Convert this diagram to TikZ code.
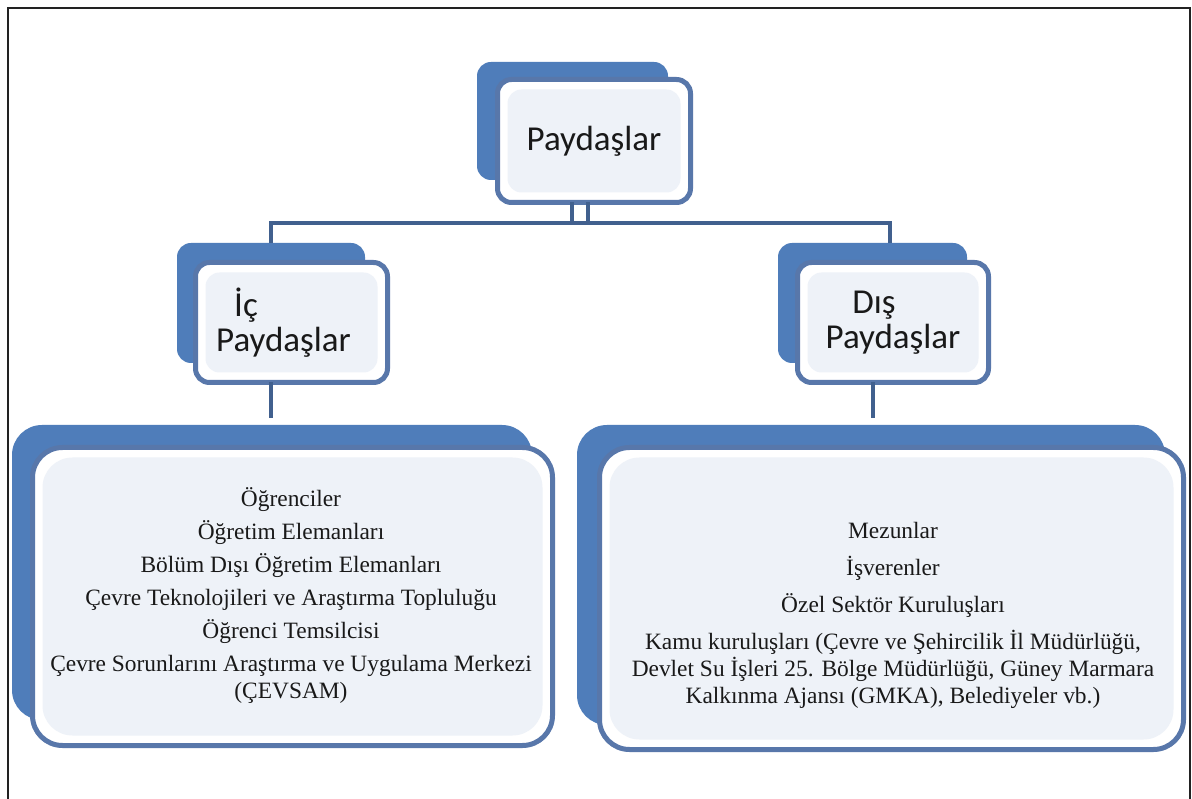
\documentclass[tikz,border=0pt]{standalone}
\usepackage{fontspec}
\setmainfont{Liberation Serif}
\newfontfamily\calib{Carlito}
\definecolor{backblue}{HTML}{4F7DBA}
\definecolor{bordblue}{HTML}{5877AA}
\definecolor{connblue}{HTML}{41608E}
\definecolor{innerfill}{HTML}{EEF2F8}
\definecolor{framegray}{HTML}{222222}
\begin{document}
\begin{tikzpicture}[x=1pt,y=-1pt,
  backbox/.style={fill=backblue, rounded corners=#1, inner sep=0pt, outer sep=0pt},
  frontbox/.style={draw=bordblue, line width=5pt, fill=white, rounded corners=#1,
    inner sep=0pt, outer sep=0pt, text=black!90,
    path picture={\fill[innerfill, rounded corners=#1]
      ([shift={(10pt,10pt)}]path picture bounding box.south west) rectangle
      ([shift={(-10pt,-10pt)}]path picture bounding box.north east);}},
  headtext/.style={font=\calib\fontsize{35}{35}\selectfont, align=center},
  listtext/.style={font=\fontsize{23.4}{27}\selectfont, align=center, text=black!90, inner sep=0pt},
  conn/.style={draw=connblue, line width=4pt},
  frameline/.style={draw=framegray, line width=2pt}
]
\useasboundingbox (0,0) rectangle (1192,799);
\fill[white] (0,0) rectangle (1192,799);
\draw[frameline] (8,805) -- (8,8) -- (1190,8) -- (1190,805);

% top box
\node[backbox=14pt, minimum width=191pt, minimum height=118pt] (topb) at (572.5,121) {};
\node[frontbox=14pt, minimum width=193pt, minimum height=123pt, headtext] (top) at (594,141) {Paydaşlar};

% middle boxes
\node[backbox=14pt, minimum width=188pt, minimum height=120pt] (icb) at (271,303) {};
\node[frontbox=14pt, minimum width=192pt, minimum height=120pt, headtext] (ic) at (291.5,322.5) {İç\hspace*{91pt}\\Paydaşlar\hspace*{16pt}};
\node[backbox=14pt, minimum width=189pt, minimum height=120pt] (disb) at (872.5,303) {};
\node[frontbox=14pt, minimum width=191pt, minimum height=120pt, headtext] (dis) at (893,322.5) {Dış\hspace*{38pt}\\Paydaşlar};

% bottom boxes
\node[backbox=30pt, minimum width=520pt, minimum height=295pt] (Lb) at (272,572.5) {};
\node[frontbox=30pt, minimum width=520pt, minimum height=298pt] (L) at (292.5,596.5) {};
\node[backbox=30pt, minimum width=588pt, minimum height=300pt] (Rb) at (871,575) {};
\node[frontbox=30pt, minimum width=584pt, minimum height=302pt] (R) at (891.5,598.5) {};

\node[listtext] (Lt) at (291,596) {Öğrenciler\\[6pt]Öğretim Elemanları\\[6pt]Bölüm Dışı Öğretim Elemanları\\[6pt]Çevre Teknolojileri ve Araştırma Topluluğu\\[6pt]Öğrenci Temsilcisi\\[6pt]Çevre Sorunlarını Araştırma ve Uygulama Merkezi\\(ÇEVSAM)};
\node[listtext] (Rt) at (893,615.5) {Mezunlar\\[10pt]İşverenler\\[10pt]Özel Sektör Kuruluşları\\[10pt]Kamu kuruluşları (Çevre ve Şehircilik İl Müdürlüğü,\\Devlet Su İşleri 25. Bölge Müdürlüğü, Güney Marmara\\Kalkınma Ajansı (GMKA), Belediyeler vb.)};

% connectors
\coordinate (hl) at (271,223);
\coordinate (hr) at (890,223);
\draw[conn] (icb.north) -- (hl) -- (hr) -- (hr |- disb.north);
\draw[conn, line width=3.5pt] ([xshift=-22pt]top.south) -- ([xshift=-22pt]top.south |- hl);
\draw[conn, line width=3.5pt] ([xshift=-6pt]top.south) -- ([xshift=-6pt]top.south |- hl);
\draw[conn] (ic.south -| icb.north) -- ([yshift=7pt]Lb.north -| icb.north);
\draw[conn] (dis.south -| disb.north) -- ([yshift=7pt]Rb.north -| disb.north);
\end{tikzpicture}
\end{document}
